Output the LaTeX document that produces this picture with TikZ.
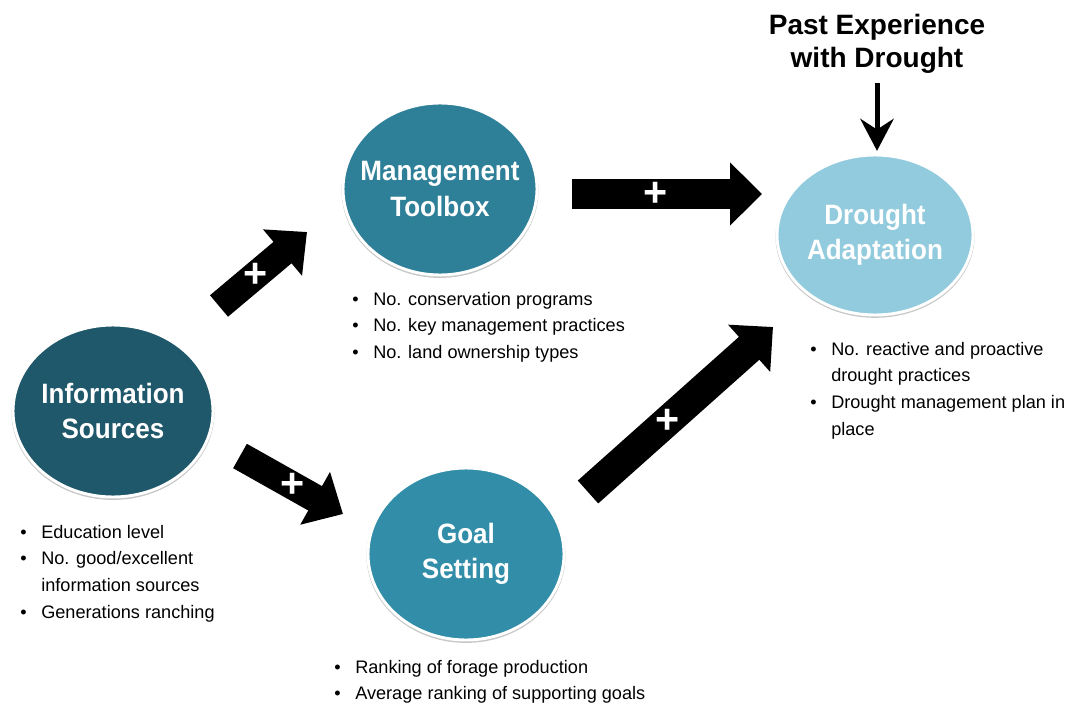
\documentclass[tikz,border=0pt]{standalone}
\usepackage{fontspec}
\setmainfont{Liberation Sans}
\newfontfamily\bubblefont[FakeStretch=0.93]{Liberation Sans}
\usetikzlibrary{shapes.geometric,arrows.meta,shadows}
\definecolor{infoteal}{RGB}{31,88,106}
\definecolor{toolteal}{RGB}{46,127,152}
\definecolor{goalteal}{RGB}{50,142,168}
\definecolor{droughtblue}{RGB}{146,203,222}
\tikzset{
bubble/.style={ellipse,fill=#1,draw=white,line width=2.2pt,inner xsep=-22pt,inner ysep=-12pt,text=white,align=center,font=\bubblefont\bfseries\fontsize{21}{26.5}\selectfont,general shadow={fill=black!22,shadow scale=1.015,shadow yshift=-1.2pt}},
blockarrow/.style 2 args={line width=#1,-{Triangle[length=24pt,width=#2]}},
plus/.style={text=white,inner sep=0pt,font=\bfseries\fontsize{31}{31}\selectfont},
points/.style={anchor=base west,inner sep=0pt,font=\fontsize{13.6}{20}\selectfont},
title/.style={align=center,inner sep=0pt,font=\bfseries\fontsize{21}{25}\selectfont}
}
\newcommand{\pointlist}[1]{\begin{tabular}[t]{@{}l@{\hspace{11pt}}l@{}}#1\end{tabular}}
\begin{document}
\begin{tikzpicture}[x=0.75pt,y=-0.75pt]
\useasboundingbox (0,0) rectangle (1074,706);
\node[bubble=infoteal,minimum width=150pt,minimum height=129pt] (info) at (113,411) {Information\\Sources};
\node[bubble=toolteal,minimum width=145.5pt,minimum height=129pt] (tool) at (440,189) {Management\\Toolbox};
\node[bubble=goalteal,minimum width=147pt,minimum height=129pt] (goal) at (466,554) {Goal\\Setting};
\node[bubble=droughtblue,minimum width=147pt,minimum height=120pt] (drought) at (875,235) {Drought\\Adaptation};
\node[title] (past) at (877,44) {Past Experience\\with Drought};
\draw[line width=3.75pt,-{Stealth[length=24pt,width=25pt,inset=8pt]},shorten <=7pt,shorten >=2pt] (past) -- (past |- drought.north);
\coordinate (it1) at (219,306);
\coordinate (it2) at (307,232);
\coordinate (ig1) at (240,456);
\coordinate (ig2) at (343,514);
\coordinate (td1) at (572,194);
\coordinate (td2) at (762,194);
\coordinate (gd1) at (588,492);
\coordinate (gd2) at (773,327);
\draw[blockarrow={21pt}{44pt}] (it1) -- node[plus,pos=0.41] (p1) {+} (it2);
\draw[blockarrow={21pt}{44pt}] (ig1) -- node[plus,pos=0.51] (p2) {+} (ig2);
\draw[blockarrow={23pt}{46pt}] (td1) -- node[plus,pos=0.44] (p3) {+} (td2);
\draw[blockarrow={23pt}{46pt}] (gd1) -- node[plus,pos=0.43] (p4) {+} (gd2);
\node[points] (infolist) at (20,538) {\pointlist{\textbullet & Education level\\ \textbullet & No. good/excellent\\ & information sources\\ \textbullet & Generations ranching}};
\node[points] (toollist) at (352,305) {\pointlist{\textbullet & No. conservation programs\\ \textbullet & No. key management practices\\ \textbullet & No. land ownership types}};
\node[points] (goallist) at (334,673) {\pointlist{\textbullet & Ranking of forage production\\ \textbullet & Average ranking of supporting goals}};
\node[points] (droughtlist) at (810,355) {\pointlist{\textbullet & No. reactive and proactive\\ & drought practices\\ \textbullet & Drought management plan in\\ & place}};
\end{tikzpicture}
\end{document}
